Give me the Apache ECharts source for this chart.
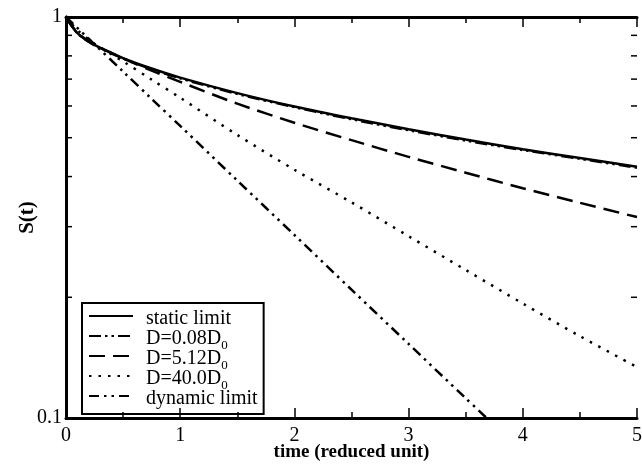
<!DOCTYPE html>
<html>
<head>
<meta charset="utf-8">
<script src="https://cdn.jsdelivr.net/npm/echarts@6/dist/echarts.min.js"></script>
<style>
  html, body { margin: 0; padding: 0; background: #fff; }
  #main { width: 642px; height: 464px; }
</style>
</head>
<body>
<div id="main"></div>
<script>
// time points (reduced unit)
var times = [0, 0.1, 0.25, 0.5, 0.75, 1, 1.5, 2, 2.5, 3, 3.5, 4, 4.5, 5];

// S(t)
var staticLimit = [1, 0.912, 0.852, 0.790, 0.744, 0.706, 0.646, 0.598, 0.559, 0.525, 0.495, 0.468, 0.445, 0.423];
var d008 = [1, 0.911, 0.850, 0.788, 0.741, 0.703, 0.643, 0.596, 0.556, 0.522, 0.492, 0.466, 0.443, 0.421];
var d512 = [1, 0.914, 0.853, 0.789, 0.735, 0.689, 0.608, 0.545, 0.493, 0.448, 0.409, 0.374, 0.344, 0.317];
var d400 = [1, 0.928, 0.858, 0.775, 0.698, 0.629, 0.508, 0.416, 0.345, 0.284, 0.234, 0.193, 0.160, 0.134];

var dynTimes = [0, 0.25, 0.5, 0.75, 1, 1.5, 2, 2.5, 3, 3.5, 3.7];
var dynamicLimit = [1, 0.855, 0.731, 0.625, 0.535, 0.391, 0.286, 0.209, 0.153, 0.112, 0.099];

// minor ticks on the log axis
var yMinor = [0.2, 0.3, 0.4, 0.5, 0.6, 0.7, 0.8, 0.9];

function pairs(xs, ys) {
  return xs.map(function (x, i) { return [x, ys[i]]; });
}

var serif = '"Liberation Serif", "DejaVu Serif", serif';

var legendNames = {
  'static limit': '{t|static limit}',
  'D=0.08D0': '{t|D=0.08D}{s|0}',
  'D=5.12D0': '{t|D=5.12D}{s|0}',
  'D=40.0D0': '{t|D=40.0D}{s|0}',
  'dynamic limit': '{t|dynamic limit}'
};

function lineSeries(name, data, type) {
  return {
    name: name,
    type: 'line',
    data: data,
    showSymbol: false,
    symbol: 'none',
    smooth: 0.3,
    clip: true,
    color: '#000',
    lineStyle: { color: '#000', width: 2.5, type: type, cap: 'butt' }
  };
}

var chart = echarts.init(document.getElementById('main'));

chart.setOption({
  animation: false,
  backgroundColor: '#fff',
  grid: { left: 66, right: 5, top: 17, bottom: 46, outerBoundsMode: 'none' },
  legend: {
    orient: 'vertical',
    left: 82,
    top: 303,
    padding: [4, 6, 0, 6],
    itemGap: -7,
    itemWidth: 44,
    itemHeight: 14,
    borderColor: '#000',
    borderWidth: 2,
    borderRadius: 0,
    itemStyle: { opacity: 0 },
    data: ['static limit', 'D=0.08D0', 'D=5.12D0', 'D=40.0D0', 'dynamic limit'],
    formatter: function (name) { return legendNames[name]; },
    textStyle: {
      color: '#000',
      fontFamily: serif,
      fontSize: 20,
      rich: {
        t: { fontFamily: serif, fontSize: 20, lineHeight: 18, verticalAlign: 'top', color: '#000', padding: [2, 0, 5, 8] },
        s: { fontFamily: serif, fontSize: 13, lineHeight: 13, verticalAlign: 'top', color: '#000', padding: [12, 0, 0, 0] }
      }
    }
  },
  xAxis: [{
    type: 'value',
    min: 0,
    max: 5,
    interval: 1,
    name: 'time (reduced unit)',
    nameLocation: 'middle',
    nameGap: 25,
    nameMoveOverlap: false,
    nameTextStyle: { fontFamily: serif, fontSize: 19, fontWeight: 'bold', color: '#000', verticalAlign: 'top' },
    axisLine: { lineStyle: { color: '#000', width: 3 } },
    axisTick: { inside: true, length: 10, lineStyle: { color: '#000', width: 1.5 } },
    minorTick: { show: true, splitNumber: 2, length: 6, lineStyle: { color: '#000', width: 1.5 } },
    axisLabel: { fontFamily: serif, fontSize: 20, color: '#000', margin: 8 },
    splitLine: { show: false }
  }, {
    type: 'value',
    position: 'top',
    min: 0,
    max: 5,
    interval: 1,
    axisLine: { show: true, lineStyle: { color: '#000', width: 3 } },
    axisTick: { show: true, inside: true, length: 10, lineStyle: { color: '#000', width: 1.5 } },
    minorTick: { show: true, splitNumber: 2, length: 6, lineStyle: { color: '#000', width: 1.5 } },
    axisLabel: { show: false },
    splitLine: { show: false }
  }],
  yAxis: [{
    type: 'log',
    logBase: 10,
    min: 0.1,
    max: 1,
    name: 'S(t)',
    nameLocation: 'middle',
    nameRotate: 90,
    nameGap: 28,
    nameMoveOverlap: false,
    nameTextStyle: { fontFamily: serif, fontSize: 21, fontWeight: 'bold', color: '#000' },
    axisLine: { show: true, lineStyle: { color: '#000', width: 3 } },
    axisTick: { show: false },
    axisLabel: { fontFamily: serif, fontSize: 20, color: '#000', margin: 4 },
    splitLine: { show: false }
  }, {
    type: 'log',
    logBase: 10,
    min: 0.1,
    max: 1,
    position: 'right',
    axisLine: { show: true, lineStyle: { color: '#000', width: 3 } },
    axisTick: { show: false },
    axisLabel: { show: false },
    splitLine: { show: false }
  }],
  series: [
    lineSeries('static limit', pairs(times, staticLimit), 'solid'),
    lineSeries('D=0.08D0', pairs(times, d008), [12, 4, 2.5, 4, 2.5, 4]),
    lineSeries('D=5.12D0', pairs(times, d512), [16, 8]),
    lineSeries('D=40.0D0', pairs(times, d400), [2.5, 7]),
    lineSeries('dynamic limit', pairs(dynTimes, dynamicLimit), [10, 5, 2.5, 5, 2.5, 5]),
    {
      name: 'minor',
      type: 'custom',
      silent: true,
      data: yMinor.map(function (v) { return [0, v]; }),
      renderItem: function (params, api) {
        var l = api.coord([0, api.value(1)]);
        var r = api.coord([5, api.value(1)]);
        var st = { stroke: '#000', lineWidth: 1.5 };
        return {
          type: 'group',
          children: [
            { type: 'line', shape: { x1: l[0], y1: l[1], x2: l[0] + 6, y2: l[1] }, style: st },
            { type: 'line', shape: { x1: r[0] - 6, y1: r[1], x2: r[0], y2: r[1] }, style: st }
          ]
        };
      }
    }
  ]
});
</script>
</body>
</html>
